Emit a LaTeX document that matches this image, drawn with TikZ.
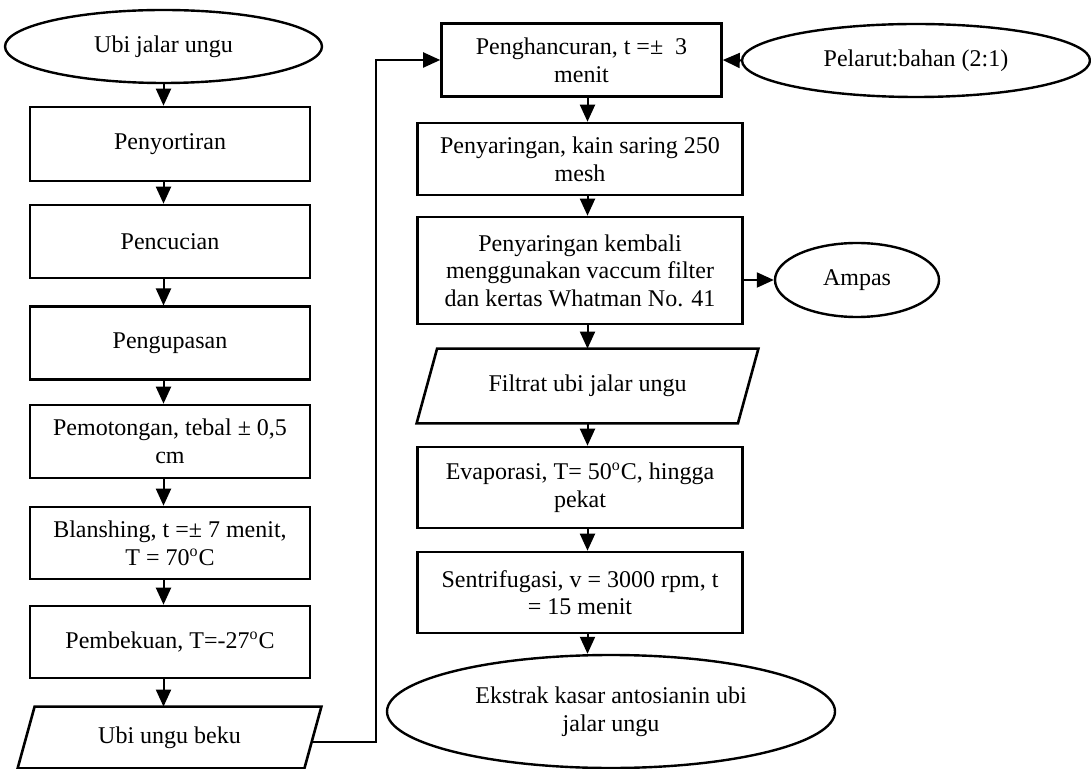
\documentclass[tikz,border=0pt]{standalone}
\usepackage{fontspec}
\setmainfont{Liberation Serif}
\usetikzlibrary{shapes.geometric,arrows.meta}
\begin{document}
\begin{tikzpicture}[x=0.5pt,y=-0.5pt,
  every node/.style={font=\fontsize{12}{13.8}\selectfont, align=center, inner sep=0pt},
  procbox/.style={draw, line width=1.3pt, rectangle},
  ovalbox/.style={draw, line width=1.2pt, ellipse},
  iobox/.style={rectangle},
  ioline/.style={line width=1.3pt, line join=miter},
  arr/.style={line width=1pt, -{Triangle[length=8.5pt,width=7.5pt]}}
]
\useasboundingbox (0,0) rectangle (1091,769);

% left column
\node[ovalbox, minimum width=158.5pt, minimum height=36.5pt] (e1) at (163.5,46.5) {Ubi jalar ungu};
\node[procbox, minimum width=140pt, minimum height=37pt] (b1) at (170,144) {Penyortiran};
\node[procbox, minimum width=140pt, minimum height=36.5pt] (b2) at (170,241.5) {Pencucian};
\node[procbox, minimum width=140pt, minimum height=36.5pt] (b3) at (170,343.3) {Pengupasan};
\node[procbox, minimum width=140pt, minimum height=36.5pt] (b4) at (170,441.5) {Pemotongan, tebal {\char"00B1} 0,5\\cm};
\node[procbox, minimum width=140pt, minimum height=36pt] (b5) at (170,543) {Blanshing, t ={\char"00B1} 7 menit,\\T = 70\textsuperscript{o}C};
\node[procbox, minimum width=140pt, minimum height=36pt] (b6) at (170,642) {Pembekuan, T=-27\textsuperscript{o}C};
\node[iobox, minimum width=151.5pt, minimum height=30.5pt] (pu) at (169.5,737.5) {Ubi ungu beku};
\draw[ioline] ([xshift=8.5pt]pu.north west) -- (pu.north east) -- ([xshift=-8.5pt]pu.south east) -- (pu.south west) -- cycle;
\coordinate (pue) at (313,742);

% right column
\node[procbox, minimum width=140pt, minimum height=36.5pt] (ph) at (581.5,60) {Penghancuran, t ={\char"00B1}\ \ 3\\menit};
\node[ovalbox, minimum width=174pt, minimum height=36.5pt] (pel) at (916,60.5) {Pelarut:bahan (2:1)};
\node[procbox, minimum width=162.5pt, minimum height=36pt] (ps1) at (580,159) {Penyaringan, kain saring 250\\mesh};
\node[procbox, minimum width=162.5pt, minimum height=53.5pt] (ps2) at (580,270.5) {Penyaringan kembali\\menggunakan vaccum filter\\dan kertas Whatman No. 41};
\node[ovalbox, minimum width=82pt, minimum height=37pt] (amp) at (857,280) {Ampas};
\node[iobox, minimum width=170.5pt, minimum height=37pt] (fil) at (587.5,386) {Filtrat ubi jalar ungu};
\draw[ioline] ([xshift=10.25pt]fil.north west) -- (fil.north east) -- ([xshift=-10.25pt]fil.south east) -- (fil.south west) -- cycle;
\node[procbox, minimum width=162.5pt, minimum height=40.5pt] (ev) at (580,487.5) {Evaporasi, T= 50\textsuperscript{o}C, hingga\\pekat};
\node[procbox, minimum width=162.5pt, minimum height=40.5pt] (sn) at (580,592.5) {Sentrifugasi, v = 3000 rpm, t\\= 15 menit};
\node[ovalbox, minimum width=224pt, minimum height=56.5pt] (ek) at (611,711.5) {Ekstrak kasar antosianin ubi\\jalar ungu};

% connectors left
\draw[arr] (e1.south) -- (b1.north -| e1);
\draw[arr] (b1.south -| e1) -- (b2.north -| e1);
\draw[arr] (b2.south -| e1) -- (b3.north -| e1);
\draw[arr] (b3.south -| e1) -- (b4.north -| e1);
\draw[arr] (b4.south -| e1) -- (b5.north -| e1);
\draw[arr] (b5.south -| e1) -- (b6.north -| e1);
\draw[arr] (b6.south -| e1) -- (pu.north -| e1);
\draw[arr] (pue) -- ++(62.5,0) |- (ph.west);

% connectors right
\draw[arr] (pel.west) -- (ph.east);
\draw[arr] (ph.south -| fil) -- (ps1.north -| fil);
\draw[arr] (ps1.south -| fil) -- (ps2.north -| fil);
\draw[arr] (ps2.east |- amp.west) -- (amp.west);
\draw[arr] (ps2.south -| fil) -- (fil.north);
\draw[arr] (fil.south) -- (ev.north -| fil);
\draw[arr] (ev.south -| fil) -- (sn.north -| fil);
\draw[arr] (sn.south -| fil) -- (ek.north -| fil);
\end{tikzpicture}
\end{document}
